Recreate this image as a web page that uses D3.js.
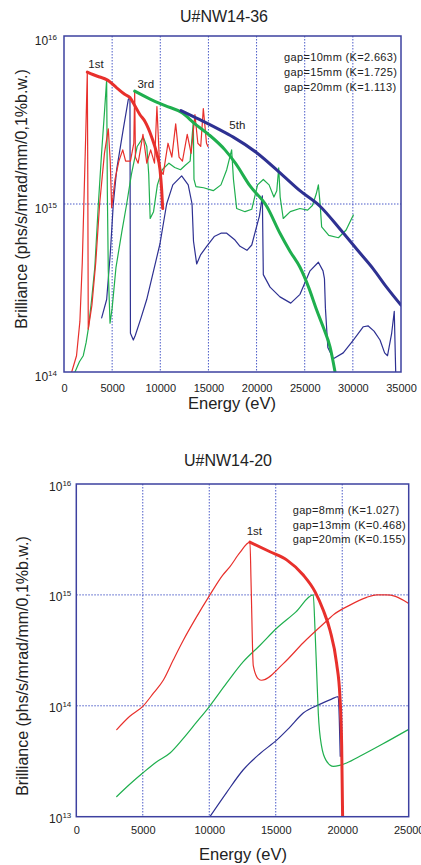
<!DOCTYPE html>
<html>
<head>
<meta charset="utf-8">
<script src="https://cdn.jsdelivr.net/npm/d3@7"></script>
<style>
  html, body { margin: 0; padding: 0; background: #fff; }
  svg { display: block; font-family: "Liberation Sans", Arial, sans-serif; }
</style>
</head>
<body>
<script>
// ---------- U#NW14-36 : energy ticks, brilliance decades ----------
const topEnergyTicks = [0, 5000, 10000, 15000, 20000, 25000, 30000, 35000];
const topBrillianceTicks = [1e14, 1e15, 1e16];
const topLegend = ["gap=10mm (K=2.663)", "gap=15mm (K=1.725)", "gap=20mm (K=1.113)"];

// spectra at fixed gap [energy eV, brilliance]
const topGap10Spectrum = [
  [800,1.0e14],[1300,1.25e14],[1650,2.0e14],[1900,4.5e14],[2100,1.2e15],[2250,2.5e15],[2420,6.1e15],
  [2470,1.5e15],[2520,1.8e14],[2900,2.5e14],[3300,4.5e14],[3700,1.0e15],[4200,2.0e15],[4600,2.8e15],
  [4800,1.8e15],[4950,9.5e14],[5300,1.4e15],[5700,1.8e15],[6100,2.1e15],[6400,1.8e15],[6900,1.8e15],
  [7250,2.3e15],[7340,4.7e15],[7420,1.9e15],[7700,1.75e15],[8200,2.6e15],[8600,1.75e15],[9000,2.1e15],
  [9400,1.75e15],[9650,3.8e15],[9950,1.6e15],[10300,1.5e15],[10800,2.3e15],[11200,1.9e15],[11600,3.0e15],
  [11950,1.9e15],[12300,1.8e15],[12800,2.6e15],[13200,2.0e15],[13600,3.4e15],[13900,2.3e15],[14200,2.2e15],
  [14470,3.7e15],[14800,2.3e15],[14950,2.2e15]
];
const topGap15Spectrum = [
  [1140,1.0e14],[1600,1.15e14],[2000,1.25e14],[2300,1.5e14],[2520,1.8e14],[2870,2.7e14],[3200,4.2e14],
  [3570,1.0e15],[3900,2.0e15],[4200,3.5e15],[4430,5.5e15],[4500,1.2e15],[4600,4.0e14],[4780,1.95e14],
  [5000,2.4e14],[5400,4.2e14],[6000,6.8e14],[6510,1.0e15],[7000,1.5e15],[7600,2.2e15],[8240,2.5e15],
  [8600,2.2e15],[8800,1.5e15],[8950,8.2e14],[9300,9.0e14],[9700,1.3e15],[10200,1.6e15],[10900,1.75e15],
  [11500,1.65e15],[12100,1.6e15],[12600,1.7e15],[13100,1.8e15],[13430,3.1e15],[13500,1.4e15],[13700,1.27e15],
  [14500,1.25e15],[15500,1.2e15],[16300,1.3e15],[16900,1.6e15],[17410,2.1e15],[17600,1.4e15],[17930,9.4e14],
  [18800,9.0e14],[19500,9.3e14],[20100,1.3e15],[20700,1.4e15],[21300,1.3e15],[21800,1.1e15],[22100,1.2e15],
  [22300,1.64e15],[22450,1.1e15],[22770,8.2e14],[23500,9.0e14],[24500,9.4e14],[25300,9.2e14],[25800,9.8e14],
  [26200,1.15e15],[26420,1.3e15],[26600,1.0e15],[26760,7.3e14],[27500,6.5e14],[28500,6.3e14],[29300,7.0e14],
  [30050,8.6e14]
];
const topGap20Spectrum = [
  [3910,2.1e14],[4430,2.7e14],[4800,5.0e14],[5120,1.0e15],[5470,1.6e15],[6160,2.8e15],[6680,4.2e15],
  [6850,4.3e15],[6900,1.7e14],[7200,1.55e14],[7400,1.65e14],[8000,2.1e14],[8590,2.7e14],[9300,4.0e14],
  [9970,5.8e14],[10660,1.0e15],[11300,1.3e15],[12220,1.47e15],[12900,1.3e15],[13300,1.0e15],[13450,6.0e14],
  [13780,4.4e14],[14200,5.0e14],[14820,5.6e14],[15600,6.4e14],[16300,6.7e14],[16900,6.7e14],[17760,6.1e14],
  [18280,5.6e14],[19000,5.3e14],[19500,5.7e14],[19850,6.8e14],[20300,8.5e14],[20600,1.12e15],[20700,3.8e14],
  [21400,3.2e14],[22430,2.8e14],[23550,2.57e14],[24510,2.9e14],[25550,4.0e14],[26420,4.5e14],[26900,4.0e14],
  [27050,3.6e14],[27150,2.4e14],[27400,1.4e14],[27970,1.2e14],[29000,1.3e14],[30050,1.55e14],[31090,1.86e14],
  [31600,1.88e14],[32200,1.75e14],[32820,1.55e14],[33300,1.3e14],[33600,1.25e14],[34030,1.7e14],[34300,2.3e14],
  [34450,1.0e14]
];
// harmonic tuning curves
const topTuning1st = [
  [2420,6.1e15],[3000,5.9e15],[3700,5.7e15],[4430,5.5e15],[5500,4.9e15],[6300,4.5e15],[6850,4.3e15],
  [7300,3.9e15],[7890,3.4e15],[8410,3.1e15],[9110,2.5e15],[9630,2.0e15],[9970,1.6e15],[10150,1.2e15],[10250,9.4e14]
];
const topTuning3rd = [
  [7340,4.7e15],[9000,4.2e15],[10500,3.85e15],[12220,3.5e15],[13600,3.0e15],[15000,2.6e15],[16720,2.1e15],
  [17800,1.75e15],[19320,1.28e15],[21050,9.7e14],[22430,6.7e14],[23500,5.2e14],[24510,4.2e14],[25400,3.2e14],
  [26240,2.34e14],[27000,1.8e14],[27630,1.41e14],[28150,1.0e14]
];
const topTuning5th = [
  [12150,3.6e15],[14000,3.2e15],[16000,2.8e15],[17580,2.5e15],[20010,2.02e15],[22780,1.47e15],[24500,1.2e15],
  [26590,9.7e14],[28660,7.1e14],[30500,5.3e14],[32130,4.1e14],[33500,3.2e14],[35000,2.5e14]
];
const topHarmonicLabels = [["1st", 3320, 6.45e15], ["3rd", 8490, 4.9e15], ["5th", 18000, 2.8e15]];

// ---------- U#NW14-20 ----------
const bottomEnergyTicks = [0, 5000, 10000, 15000, 20000, 25000];
const bottomBrillianceTicks = [1e13, 1e14, 1e15, 1e16];
const bottomLegend = ["gap=8mm (K=1.027)", "gap=13mm (K=0.468)", "gap=20mm (K=0.155)"];

const bottomGap8Spectrum = [
  [3040,6.1e13],[4000,8.0e13],[5040,1.0e14],[5800,1.3e14],[6540,1.7e14],[7300,2.6e14],[8050,3.9e14],
  [9000,6.2e14],[10050,1.0e15],[11000,1.5e15],[11560,1.8e15],[12300,2.4e15],[13060,2.99e15],[13150,1.2e15],
  [13310,2.3e14],[13690,1.75e14],[13940,1.7e14],[15570,2.4e14],[17070,3.7e14],[18950,6.0e14],[19330,6.6e14],
  [20500,8.0e14],[21840,9.5e14],[22600,1.0e15],[23300,1.0e15],[24000,9.7e14],[24970,8.4e14]
];
const bottomGap13Spectrum = [
  [3040,1.52e13],[4000,1.95e13],[5040,2.5e13],[6000,3.1e13],[7050,3.75e13],[8000,5.0e13],[9000,7.0e13],
  [10050,1.0e14],[11300,1.6e14],[12560,2.5e14],[13800,3.5e14],[15070,5.0e14],[16500,7.0e14],[17820,1.0e15],
  [17950,5.0e14],[18080,2.0e14],[18200,8.6e13],[18450,4.3e13],[18800,3.2e13],[19330,2.84e13],[19800,2.9e13],
  [20330,3.05e13],[21500,3.6e13],[23000,4.5e13],[24970,6.1e13]
];
const bottomGap20Spectrum = [
  [10050,1.0e13],[11300,1.65e13],[12560,2.65e13],[13800,3.7e13],[15070,4.9e13],[16000,6.3e13],[17070,8.6e13],
  [18300,1.03e14],[19200,1.15e14],[19700,1.21e14],[19780,7.5e13],[19850,3.5e13]
];
const bottomTuning1st = [
  [13060,2.99e15],[14570,2.45e15],[15820,2.07e15],[17070,1.51e15],[17950,1.07e15],[18570,7.3e14],
  [19080,4.8e14],[19580,2.4e14],[19830,1.2e14],[19960,4.3e13],[20030,1.0e13]
];
const bottomHarmonicLabels = [["1st", 13390, 3.47e15]];

// ---------- drawing ----------
const RED = "#e8302c", GREEN = "#1faf4e", BLUE = "#2e3192";
const FRAME = "#3d41a0", GRID = "#4b5bc8";

const svg = d3.select("body").append("svg").attr("width", 421).attr("height", 865);

function drawPanel(p) {
  const g = svg.append("g");
  const x = d3.scaleLinear().domain([0, p.xTicks[p.xTicks.length - 1]]).range([p.left, p.right]);
  const y = d3.scaleLog().domain([p.yTicks[0], p.yTicks[p.yTicks.length - 1]]).range([p.bottom, p.top]);

  const clipId = "clip-" + p.id;
  svg.append("clipPath").attr("id", clipId)
    .append("rect").attr("x", p.left).attr("y", p.top)
    .attr("width", p.right - p.left).attr("height", p.bottom - p.top);

  // dotted grid
  g.append("g").selectAll("line").data(p.xTicks.slice(1, -1)).join("line")
    .attr("x1", d => x(d)).attr("x2", d => x(d)).attr("y1", p.top).attr("y2", p.bottom)
    .attr("stroke", GRID).attr("stroke-width", 1).attr("stroke-dasharray", "1.5,1.5");
  g.append("g").selectAll("line").data(p.yTicks.slice(1, -1)).join("line")
    .attr("x1", p.left).attr("x2", p.right).attr("y1", d => y(d)).attr("y2", d => y(d))
    .attr("stroke", GRID).attr("stroke-width", 1).attr("stroke-dasharray", "1.5,1.5");

  // curves
  const lineGen = d3.line().x(d => x(d[0])).y(d => y(d[1]));
  const smoothGen = d3.line().x(d => x(d[0])).y(d => y(d[1])).curve(d3.curveMonotoneX);
  const plot = g.append("g").attr("clip-path", `url(#${clipId})`);
  p.series.forEach(s => {
    plot.append("path").datum(s.data)
      .attr("d", s.smooth ? smoothGen : lineGen)
      .attr("fill", "none").attr("stroke", s.color).attr("stroke-width", s.width)
      .attr("stroke-linejoin", "round").attr("stroke-linecap", "round");
  });

  // frame
  g.append("rect").attr("x", p.left).attr("y", p.top)
    .attr("width", p.right - p.left).attr("height", p.bottom - p.top)
    .attr("fill", "none").attr("stroke", FRAME).attr("stroke-width", 1.5);

  // x axis
  const xAxis = g.append("g").attr("transform", `translate(0,${p.bottom})`)
    .call(d3.axisBottom(x).tickValues(p.xTicks).tickSize(0).tickPadding(p.xTickPad).tickFormat(d3.format("d")));
  xAxis.select(".domain").remove();
  xAxis.selectAll("text").attr("font-size", 11).attr("fill", "#222")
    .attr("font-family", "Liberation Sans, Arial, sans-serif");

  // y axis with power-of-ten labels
  const yAxis = g.append("g").attr("transform", `translate(${p.left},0)`)
    .call(d3.axisLeft(y).tickValues(p.yTicks).tickSize(0).tickPadding(p.yTickPad));
  yAxis.select(".domain").remove();
  yAxis.selectAll(".tick text").each(function (d) {
    const t = d3.select(this).text("").attr("fill", "#222").attr("dy", null)
      .attr("y", p.yTickDy).attr("font-family", "Liberation Sans, Arial, sans-serif");
    t.append("tspan").attr("font-size", 12).text("10");
    t.append("tspan").attr("font-size", 8).attr("dy", -5).text(Math.round(Math.log10(d)));
  });

  // titles
  g.append("text").attr("x", p.titleX).attr("y", p.titleY).attr("text-anchor", "middle")
    .attr("font-size", 16).attr("fill", "#222").text(p.title);
  g.append("text").attr("x", p.xLabelX).attr("y", p.xLabelY).attr("text-anchor", "middle")
    .attr("font-size", 16.5).attr("fill", "#222").text("Energy (eV)");
  g.append("text").attr("transform", `translate(${p.yLabelX},${p.yLabelY}) rotate(-90)`)
    .attr("text-anchor", "middle").attr("font-size", 16).attr("fill", "#222")
    .text("Brilliance (phs/s/mrad/mm/0,1%b.w.)");

  // legend
  g.append("g").selectAll("text").data(p.legend).join("text")
    .attr("x", p.legendX).attr("y", (d, i) => p.legendY + i * p.legendStep)
    .attr("font-size", 11).attr("letter-spacing", 0.35).attr("fill", "#222").text(d => d);

  // harmonic labels
  g.append("g").selectAll("text").data(p.harmonics).join("text")
    .attr("x", d => x(d[1])).attr("y", d => y(d[2])).attr("text-anchor", "middle")
    .attr("font-size", 11.5).attr("fill", "#222").text(d => d[0]);
}

drawPanel({
  id: "nw14-36", title: "U#NW14-36",
  left: 64, right: 401, top: 36, bottom: 372,
  xTicks: topEnergyTicks, yTicks: topBrillianceTicks,
  xTickPad: 12, yTickPad: 7, yTickDy: 8,
  titleX: 224, titleY: 21.7, xLabelX: 232, xLabelY: 409, yLabelX: 26.5, yLabelY: 199,
  legend: topLegend, legendX: 284, legendY: 60.5, legendStep: 15,
  harmonics: topHarmonicLabels,
  series: [
    { data: topGap20Spectrum, color: BLUE, width: 1.2 },
    { data: topGap15Spectrum, color: GREEN, width: 1.2 },
    { data: topGap10Spectrum, color: RED, width: 1.2 },
    { data: topTuning1st, color: RED, width: 3, smooth: true },
    { data: topTuning3rd, color: GREEN, width: 3, smooth: true },
    { data: topTuning5th, color: BLUE, width: 3, smooth: true }
  ]
});

drawPanel({
  id: "nw14-20", title: "U#NW14-20",
  left: 76.3, right: 408.7, top: 484, bottom: 816.7,
  xTicks: bottomEnergyTicks, yTicks: bottomBrillianceTicks,
  xTickPad: 10, yTickPad: 5, yTickDy: 6,
  titleX: 228, titleY: 466, xLabelX: 243, xLabelY: 860, yLabelX: 28.3, yLabelY: 666,
  legend: bottomLegend, legendX: 292.7, legendY: 514, legendStep: 14.7,
  harmonics: bottomHarmonicLabels,
  series: [
    { data: bottomGap20Spectrum, color: BLUE, width: 1.2, smooth: true },
    { data: bottomGap13Spectrum, color: GREEN, width: 1.2, smooth: true },
    { data: bottomGap8Spectrum, color: RED, width: 1.2, smooth: true },
    { data: bottomTuning1st, color: RED, width: 3, smooth: true }
  ]
});
</script>
</body>
</html>
